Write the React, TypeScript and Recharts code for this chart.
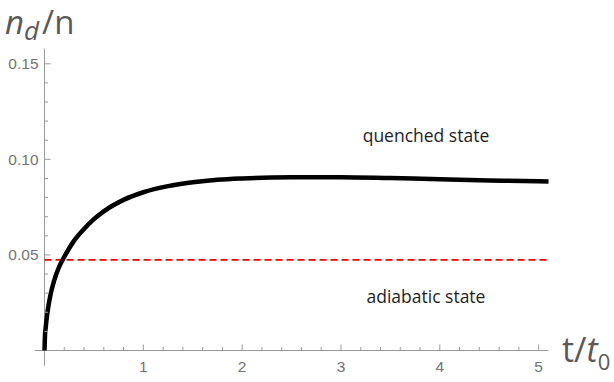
import { LineChart, Line, XAxis, YAxis, ReferenceLine, ReferenceDot } from "recharts";

// time in units of t0, and defect density n_d/n along the curve
const tValues = [0, 0.005, 0.01, 0.03, 0.06, 0.1, 0.15, 0.2, 0.3, 0.4, 0.5, 0.6, 0.8, 1.0, 1.25, 1.5, 1.75, 2.0, 2.5, 3.0, 3.5, 4.0, 4.5, 5.0, 5.1];
const density = [0, 0.008, 0.011, 0.02, 0.029, 0.037, 0.044, 0.049, 0.0575, 0.0636, 0.0687, 0.0728, 0.0788, 0.0828, 0.086, 0.088, 0.0893, 0.09, 0.0906, 0.0907, 0.0902, 0.0896, 0.089, 0.0885, 0.0884];

const adiabaticLevel = 0.0474;

const xTicks = [0.2, 0.4, 0.6, 0.8, 1, 1.2, 1.4, 1.6, 1.8, 2, 2.2, 2.4, 2.6, 2.8, 3, 3.2, 3.4, 3.6, 3.8, 4, 4.2, 4.4, 4.6, 4.8, 5];
const xLabels = [1, 2, 3, 4, 5];
const yTicks = [0.01, 0.02, 0.03, 0.04, 0.05, 0.06, 0.07, 0.08, 0.09, 0.1, 0.11, 0.12, 0.13, 0.14, 0.15];
const yLabels = ["0.05", "0.10", "0.15"];

const data = tValues.map((t, i) => ({ t, v: density[i] }));

const AXIS = "#9a9a9a";
const LABEL = "#737373";
const TICK_FONT = "'Liberation Sans', Arial, sans-serif";

function XTick({ x, y, payload }: any) {
  const v: number = payload.value;
  const major = xLabels.some(l => Math.abs(l - v) < 1e-6);
  return (
    <g>
      <line x1={x} x2={x} y1={y} y2={y - (major ? 6 : 3.5)} stroke={AXIS} strokeWidth={1} />
      {major && (
        <text x={x} y={y + 21.5} textAnchor="middle" fontSize={15.5} fill={LABEL} fontFamily={TICK_FONT}>{Math.round(v)}</text>
      )}
    </g>
  );
}

function YTick({ x, y, payload }: any) {
  const v: number = payload.value;
  const label = yLabels.find(l => Math.abs(parseFloat(l) - v) < 1e-6);
  return (
    <g>
      <line x1={x} x2={x + (label ? 6 : 3.5)} y1={y} y2={y} stroke={AXIS} strokeWidth={1} />
      {label && (
        <text x={x - 6} y={y + 5.5} textAnchor="end" fontSize={15.5} fill={LABEL} fontFamily={TICK_FONT}>{label}</text>
      )}
    </g>
  );
}

const note = (text: string) => (p: any) => (
  <text x={p.cx} y={p.cy} textAnchor="middle" dominantBaseline="central" fontSize={17.5} fill="#1e1e1e" fontFamily="'Open Sans', sans-serif">{text}</text>
);

export default function App() {
  return (
    <div style={{ position: "absolute", left: 0, top: 0, width: 614, height: 382, background: "white" }}>
      <LineChart width={614} height={382} data={data} margin={{ top: 48.5, right: 65.5, bottom: 0, left: 0 }}>
        <XAxis dataKey="t" type="number" domain={[0, 5.1]} ticks={xTicks} interval={0} height={31.5}
          axisLine={false} tickLine={false} tickSize={0} tickMargin={0} tick={<XTick />} />
        <YAxis type="number" domain={[0, 0.158]} ticks={yTicks} interval={0} width={44.5}
          axisLine={false} tickLine={false} tickSize={0} tickMargin={0} tick={<YTick />} />
        <ReferenceLine segment={[{ x: -0.1, y: 0 }, { x: 5.1, y: 0 }]} stroke={AXIS} strokeWidth={1} ifOverflow="visible" />
        <ReferenceLine segment={[{ x: 0, y: -0.008 }, { x: 0, y: 0.158 }]} stroke={AXIS} strokeWidth={1} ifOverflow="visible" />
        <ReferenceLine y={adiabaticLevel} stroke="#ff0000" strokeWidth={1.8} strokeDasharray="7 4" />
        <ReferenceDot x={3.86} y={0.1126} r={0} shape={note("quenched state")} />
        <ReferenceDot x={3.86} y={0.0283} r={0} shape={note("adiabatic state")} />
        <Line dataKey="v" type="monotone" stroke="#000" strokeWidth={4.5} dot={false} isAnimationActive={false} />
      </LineChart>
      <svg width={614} height={382} style={{ position: "absolute", left: 0, top: 0, pointerEvents: "none" }}>
        <text x={5} y={34} fontSize={33} fill="#5a5a5a" fontFamily="'Open Sans', sans-serif">
          <tspan fontStyle="italic">n</tspan>
          <tspan fontStyle="italic" fontSize={26} dy={6}>d</tspan>
          <tspan dy={-6} dx={3}>/n</tspan>
        </text>
        <text x={562} y={362} fontSize={34} fill="#5a5a5a" fontFamily="'Open Sans', sans-serif">
          <tspan>t/</tspan>
          <tspan fontStyle="italic">t</tspan>
          <tspan fontSize={22} dy={8}>0</tspan>
        </text>
      </svg>
    </div>
  );
}
